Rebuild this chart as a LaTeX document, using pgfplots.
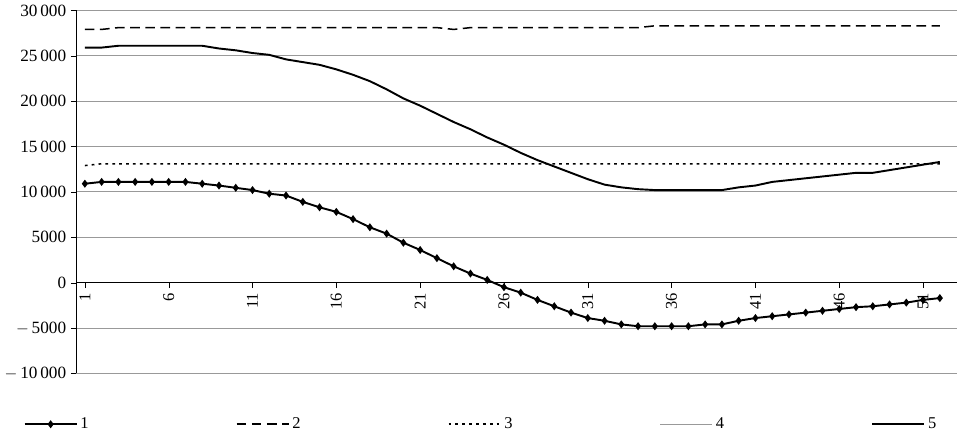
\documentclass[border=0pt]{standalone}
\usepackage{fontspec}
\setmainfont{Liberation Serif}
\usepackage{pgfplots}
\pgfplotsset{compat=1.18}
\begin{document}
\begin{tikzpicture}
\begin{axis}[
  scale only axis, width=640pt, height=264pt,
  xmin=0.5, xmax=53, ymin=-10000, ymax=30000,
  axis y line=left, axis x line=middle, axis line style={-, black},
  scaled y ticks=false,
  ytick={-10000,-5000,0,5000,10000,15000,20000,25000,30000},
  yticklabels={$-$\,10\,000,$-$\,5000,0,5000,10\,000,15\,000,20\,000,25\,000,30\,000},
  xtick={1,6,11,16,21,26,31,36,41,46,51},
  xticklabels={1,6,11,16,21,26,31,36,41,46,51},
  xticklabel style={rotate=90, anchor=east, font=\fontsize{12}{14}\selectfont},
  yticklabel style={font=\fontsize{12.5}{14}\selectfont},
  tick align=outside, tick style={black}, major tick length=4pt,
  ymajorgrids, grid style={gray!80, line width=0.6pt},
  /pgf/number format/assume math mode=true,
  clip=false,
  legend columns=5,
  legend style={draw=none, at={(0.46,-0.14)}, anchor=center, font=\fontsize{12}{14}\selectfont,
    /tikz/every even column/.append style={column sep=105pt}},
  legend image code/.code={\draw[#1] (0pt,0pt) -- (38pt,0pt); \draw[#1,mark repeat=1] plot coordinates {(19pt,0pt)};},
]
\addplot[black, line width=1.4pt, mark=diamond*, mark size=1.8pt] coordinates {
(1,10900)(2,11100)(3,11100)(4,11100)(5,11100)(6,11100)(7,11100)(8,10900)(9,10700)(10,10450)
(11,10200)(12,9800)(13,9600)(14,8900)(15,8300)(16,7800)(17,7000)(18,6100)(19,5400)(20,4400)
(21,3600)(22,2700)(23,1800)(24,1000)(25,300)(26,-500)(27,-1100)(28,-1900)(29,-2600)(30,-3300)
(31,-3900)(32,-4200)(33,-4600)(34,-4800)(35,-4800)(36,-4800)(37,-4800)(38,-4600)(39,-4600)(40,-4200)
(41,-3900)(42,-3700)(43,-3500)(44,-3300)(45,-3100)(46,-2900)(47,-2700)(48,-2600)(49,-2400)(50,-2200)
(51,-1900)(52,-1700)};
\addlegendentry{1}
\addplot[black, line width=1.1pt, dash pattern=on 7pt off 4pt] coordinates {
(1,27900)(2,27900)(3,28100)(22,28100)(23,27900)(24,28100)(34,28100)(35,28300)(52,28300)};
\addlegendentry{2}
\addplot[black, line width=1.1pt, dash pattern=on 2pt off 3pt] coordinates {
(1,12900)(2,13100)(52,13100)};
\addlegendentry{3}
\addplot[gray!80, line width=0.8pt] coordinates {(1,15000)(52,15000)};
\addlegendentry{4}
\addplot[black, line width=1.4pt] coordinates {
(1,25900)(2,25900)(3,26100)(4,26100)(5,26100)(6,26100)(7,26100)(8,26100)(9,25800)(10,25600)
(11,25300)(12,25100)(13,24600)(14,24300)(15,24000)(16,23500)(17,22900)(18,22200)(19,21300)(20,20300)
(21,19500)(22,18600)(23,17700)(24,16900)(25,16000)(26,15200)(27,14300)(28,13500)(29,12800)(30,12100)
(31,11400)(32,10800)(33,10500)(34,10300)(35,10200)(36,10200)(37,10200)(38,10200)(39,10200)(40,10500)
(41,10700)(42,11100)(43,11300)(44,11500)(45,11700)(46,11900)(47,12100)(48,12100)(49,12400)(50,12700)
(51,13000)(52,13300)};
\addlegendentry{5}
\end{axis}
\end{tikzpicture}
\end{document}
